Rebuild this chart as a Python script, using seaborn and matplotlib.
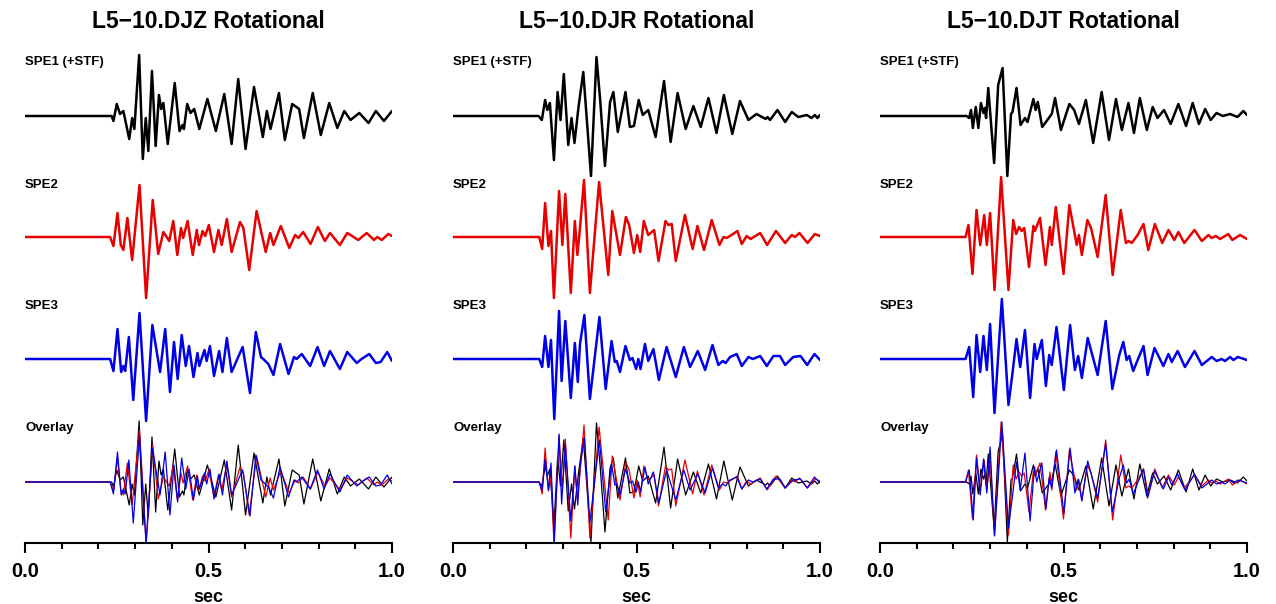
import numpy as np
import matplotlib.pyplot as plt
import seaborn as sns
from matplotlib.ticker import MultipleLocator

# ---- data: extrema (time in sec, amplitude in arbitrary units) ----
djz_spe1_t = [0.0, 0.236, 0.241, 0.250, 0.259, 0.268, 0.284, 0.292, 0.298, 0.311, 0.321, 0.329, 0.336, 0.346,
              0.356, 0.365, 0.371, 0.377, 0.389, 0.408, 0.421, 0.429, 0.433, 0.442, 0.451, 0.461, 0.475, 0.497,
              0.520, 0.543, 0.563, 0.581, 0.601, 0.624, 0.648, 0.659, 0.669, 0.692, 0.708, 0.728, 0.747, 0.760,
              0.784, 0.806, 0.829, 0.851, 0.870, 0.887, 0.911, 0.936, 0.956, 0.978, 1.0]
djz_spe1_a = [0, 0, -5, 12, 2, 5, -23, -2, -13, 61, -43, -2, -35, 45, -30, 21, 7, 13, -28, 33, -15, -9, -13, 12,
              3, 7, -13, 17, -15, 22, -28, 37, -33, 29, -21, 5, -13, 23, -24, 12, 7, -22, 23, -19, 13, -12, 5, -4,
              3, -7, 5, -5, 5]

djz_spe2_t = [0.0, 0.232, 0.241, 0.252, 0.261, 0.268, 0.279, 0.292, 0.312, 0.330, 0.348, 0.363, 0.377, 0.393,
              0.404, 0.415, 0.425, 0.431, 0.443, 0.457, 0.468, 0.474, 0.484, 0.491, 0.501, 0.515, 0.527, 0.536,
              0.550, 0.563, 0.586, 0.595, 0.611, 0.631, 0.656, 0.668, 0.677, 0.697, 0.720, 0.736, 0.745, 0.758,
              0.778, 0.798, 0.817, 0.831, 0.858, 0.878, 0.887, 0.908, 0.931, 0.951, 0.960, 0.972, 0.990, 1.0]
djz_spe2_a = [0, 0, -9, 24, -8, -13, 19, -23, 52, -61, 37, -17, 5, -4, 16, -18, 9, -1, 16, -18, 7, -8, 6, 1, 12,
              -15, 7, -8, 18, -15, 15, 9, -33, 26, -15, 4, -8, 11, -11, 2, -1, 5, -7, 10, -4, 4, -8, 4, 2, -3, 4,
              -3, 0, -3, 3, 1]

djz_spe3_t = [0.0, 0.232, 0.241, 0.252, 0.262, 0.268, 0.273, 0.283, 0.295, 0.312, 0.330, 0.347, 0.368, 0.382,
              0.395, 0.406, 0.416, 0.427, 0.438, 0.447, 0.459, 0.470, 0.475, 0.489, 0.495, 0.504, 0.515, 0.529,
              0.538, 0.550, 0.563, 0.593, 0.613, 0.629, 0.643, 0.652, 0.663, 0.677, 0.695, 0.718, 0.733, 0.740,
              0.754, 0.777, 0.797, 0.815, 0.831, 0.858, 0.878, 0.904, 0.917, 0.938, 0.956, 0.969, 0.987, 1.0]
djz_spe3_a = [0, 0, -12, 30, -13, -7, -12, 22, -41, 46, -62, 34, -13, 30, -33, 17, -20, 24, -7, 13, -18, 6, -7,
              9, -2, 13, -17, 8, -13, 21, -13, 12, -34, 27, 2, -1, -5, -16, 15, -15, 2, 0, 5, -7, 12, -7, 8, -10,
              7, -4, 0, 5, -4, -3, 7, -2]

djr_spe1_t = [0.0, 0.233, 0.242, 0.251, 0.257, 0.264, 0.275, 0.285, 0.293, 0.302, 0.314, 0.323, 0.331, 0.342,
              0.355, 0.376, 0.391, 0.401, 0.414, 0.428, 0.437, 0.449, 0.470, 0.482, 0.493, 0.506, 0.517, 0.532,
              0.552, 0.575, 0.593, 0.612, 0.634, 0.655, 0.675, 0.696, 0.718, 0.738, 0.761, 0.782, 0.805, 0.827,
              0.852, 0.857, 0.864, 0.884, 0.905, 0.923, 0.941, 0.964, 0.977, 0.986, 0.993, 1.0]
djr_spe1_a = [0, 0, -4, 16, 6, 13, -44, 24, -4, 42, -29, -2, -27, 9, 44, -60, 59, 16, -50, 14, 24, -16, 24, -11,
              -10, 16, 1, 6, -21, 35, -26, 23, -13, 10, -11, 18, -17, 21, -18, 15, -4, 2, -3, -1, -4, 6, -6, 4,
              -1, 1, -2, 1, -2, 1]

djr_spe2_t = [0.0, 0.235, 0.243, 0.251, 0.260, 0.267, 0.275, 0.289, 0.298, 0.306, 0.321, 0.332, 0.339, 0.346,
              0.357, 0.373, 0.398, 0.423, 0.434, 0.455, 0.471, 0.480, 0.493, 0.502, 0.510, 0.520, 0.532, 0.548,
              0.560, 0.579, 0.587, 0.596, 0.607, 0.632, 0.653, 0.666, 0.684, 0.705, 0.726, 0.737, 0.746, 0.759,
              0.775, 0.787, 0.800, 0.811, 0.837, 0.856, 0.880, 0.905, 0.923, 0.932, 0.944, 0.966, 0.986, 1.0]
djr_spe2_a = [0, 0, -12, 34, -9, 6, -61, 46, -8, 43, -56, 16, -18, 9, 57, -56, 55, -38, 26, -18, 20, 12, -16, 2,
              -15, 16, 2, 7, -24, 16, 12, 13, -24, 22, -12, 11, -13, 17, -8, 0, -1, 2, 6, -7, 1, -2, 4, -8, 6,
              -6, 2, 0, 4, -6, 3, 1]

djr_spe3_t = [0.0, 0.235, 0.243, 0.251, 0.260, 0.267, 0.276, 0.289, 0.296, 0.306, 0.321, 0.332, 0.340, 0.346,
              0.358, 0.373, 0.399, 0.416, 0.432, 0.441, 0.446, 0.455, 0.470, 0.482, 0.489, 0.499, 0.505, 0.511,
              0.523, 0.532, 0.546, 0.561, 0.582, 0.607, 0.629, 0.646, 0.667, 0.687, 0.707, 0.723, 0.735, 0.743,
              0.755, 0.773, 0.787, 0.805, 0.817, 0.837, 0.855, 0.873, 0.891, 0.905, 0.927, 0.947, 0.965, 0.985, 1.0]
djr_spe3_a = [0, 0, -8, 23, -8, 19, -60, 48, -22, 38, -39, 16, -23, 15, 44, -40, 42, -30, 18, -3, -2, -13, 13,
              -1, 1, -10, 0, -10, 15, -2, 10, -21, 12, -18, 12, -8, 8, -11, 14, -6, -2, -4, 2, 5, -7, 2, 0, 3, -7,
              3, 3, -6, 2, 3, -6, 5, -1]

djt_spe1_t = [0.0, 0.236, 0.243, 0.248, 0.253, 0.261, 0.268, 0.275, 0.282, 0.286, 0.289, 0.295, 0.311, 0.322,
              0.334, 0.347, 0.357, 0.361, 0.372, 0.383, 0.395, 0.402, 0.418, 0.424, 0.430, 0.442, 0.468, 0.477,
              0.493, 0.516, 0.529, 0.542, 0.561, 0.581, 0.604, 0.624, 0.643, 0.659, 0.677, 0.692, 0.708, 0.727,
              0.743, 0.756, 0.774, 0.792, 0.813, 0.834, 0.852, 0.869, 0.886, 0.901, 0.917, 0.934, 0.954, 0.974,
              0.990, 1.0]
djt_spe1_a = [0, 0, -2, 6, -12, 9, -12, 13, 3, 8, -2, 28, -47, 31, 48, -60, 2, 4, 28, -9, -2, -6, 17, 6, 14, -11,
              2, 18, -14, 12, 6, -8, 16, -27, 24, -24, 17, -14, 13, -17, 18, -14, 9, -2, 6, -8, 12, -10, 13, -8,
              7, -4, 3, 0, 2, -1, 5, 1]

djt_spe2_t = [0.0, 0.233, 0.241, 0.252, 0.263, 0.273, 0.284, 0.291, 0.300, 0.312, 0.330, 0.350, 0.363, 0.371,
              0.379, 0.386, 0.393, 0.406, 0.418, 0.422, 0.436, 0.451, 0.463, 0.468, 0.479, 0.500, 0.516, 0.536,
              0.542, 0.550, 0.565, 0.575, 0.593, 0.615, 0.634, 0.656, 0.670, 0.677, 0.686, 0.702, 0.718, 0.731,
              0.749, 0.769, 0.786, 0.802, 0.813, 0.829, 0.857, 0.877, 0.895, 0.904, 0.915, 0.927, 0.949, 0.960,
              0.981, 1.0]
djt_spe2_a = [0, 0, 12, -37, 27, -8, 22, -8, 24, -53, 60, -53, 17, 3, 10, 6, 9, -30, 11, 6, 19, -28, 10, -8, 30,
              -37, 32, -8, 2, -18, 17, 9, -20, 42, -38, 27, -6, -4, -6, 2, 13, -13, 13, -6, 7, -3, 5, -6, 7, -4,
              2, -1, 1, -2, 3, -3, 2, -2]

djt_spe3_t = [0.0, 0.233, 0.243, 0.254, 0.263, 0.273, 0.282, 0.291, 0.300, 0.312, 0.332, 0.350, 0.361, 0.372,
              0.382, 0.395, 0.409, 0.421, 0.427, 0.441, 0.452, 0.461, 0.468, 0.481, 0.501, 0.518, 0.531, 0.540,
              0.550, 0.566, 0.593, 0.615, 0.633, 0.652, 0.663, 0.672, 0.679, 0.690, 0.702, 0.718, 0.729, 0.748,
              0.772, 0.786, 0.795, 0.811, 0.831, 0.857, 0.877, 0.904, 0.917, 0.931, 0.940, 0.954, 0.963, 0.975, 1.0]
djt_spe3_a = [0, 0, 12, -38, 24, -13, 23, -11, 35, -54, 60, -46, -14, 20, -8, 29, -39, 15, 0, 19, -27, 4, -6, 32,
              -31, 34, -11, 3, -19, 21, -16, 38, -30, 4, 17, -1, 3, -12, -1, 13, -16, 11, -7, 5, -3, 8, -8, 8, -6,
              2, -2, 0, -2, 2, -1, 2, -1]

titles = ["L5\u221210.DJZ Rotational", "L5\u221210.DJR Rotational", "L5\u221210.DJT Rotational"]
row_labels = ["SPE1 (+STF)", "SPE2", "SPE3", "Overlay"]
colors = ["black", "#e60000", "#0000e6"]

panels = [
    [(djz_spe1_t, djz_spe1_a), (djz_spe2_t, djz_spe2_a), (djz_spe3_t, djz_spe3_a)],
    [(djr_spe1_t, djr_spe1_a), (djr_spe2_t, djr_spe2_a), (djr_spe3_t, djr_spe3_a)],
    [(djt_spe1_t, djt_spe1_a), (djt_spe2_t, djt_spe2_a), (djt_spe3_t, djt_spe3_a)],
]

sns.set_style("white")
plt.rcParams['font.family'] = ['Liberation Sans', 'DejaVu Sans']
plt.rcParams['text.color'] = 'black'
plt.rcParams['xtick.color'] = 'black'
plt.rcParams['axes.edgecolor'] = 'black'

W, H = 1276, 604
fig = plt.figure(figsize=(W / 100, H / 100), dpi=100)

# row baselines (data units measured up from the time axis)
offsets = [427, 306, 184, 61]
label_y = [481, 358, 237, 115]
ytop = 503
panel_left = [25, 453, 880]

for i, traces in enumerate(panels):
    ax = fig.add_axes([panel_left[i] / W, 61 / H, 367 / W, ytop / H])

    for k, (t, a) in enumerate(traces):
        sns.lineplot(x=t, y=np.array(a) + offsets[k], ax=ax, color=colors[k], lw=1.8,
                     sort=False, estimator=None, solid_joinstyle='round')
    # overlay of the three
    for k, (t, a) in enumerate(traces):
        sns.lineplot(x=t, y=np.array(a) + offsets[3], ax=ax, color=colors[k], lw=0.9,
                     sort=False, estimator=None, solid_joinstyle='round')

    for lab, ly in zip(row_labels, label_y):
        ax.text(0.0, ly, lab, fontsize=9.5, fontweight='bold', ha='left', va='center')

    ax.set_xlim(0, 1.0)
    ax.set_ylim(0, ytop)
    for s in ['top', 'left', 'right']:
        ax.spines[s].set_visible(False)
    ax.spines['bottom'].set_linewidth(1.5)
    ax.set_yticks([])
    ax.set_ylabel('')
    ax.xaxis.set_major_locator(MultipleLocator(0.5))
    ax.xaxis.set_minor_locator(MultipleLocator(0.1))
    ax.xaxis.set_major_formatter(lambda v, p: f"{v:.1f}")
    ax.tick_params(axis='x', which='major', direction='out', length=7, width=1.5,
                   labelsize=14.5, pad=7, bottom=True, colors='black')
    ax.tick_params(axis='x', which='minor', direction='out', length=4, width=1.5, bottom=True,
                   colors='black')
    for lbl in ax.get_xticklabels():
        lbl.set_fontweight('bold')
    ax.text(0.5, -(597 - 543) / ytop, 'sec', transform=ax.transAxes, fontsize=13,
            fontweight='bold', ha='center', va='center')
    ax.text(0.5, 1 + (40 - 22) / ytop, titles[i], transform=ax.transAxes, fontsize=16.5,
            fontweight='bold', ha='center', va='center')

fig.savefig("out.png", dpi=100)
